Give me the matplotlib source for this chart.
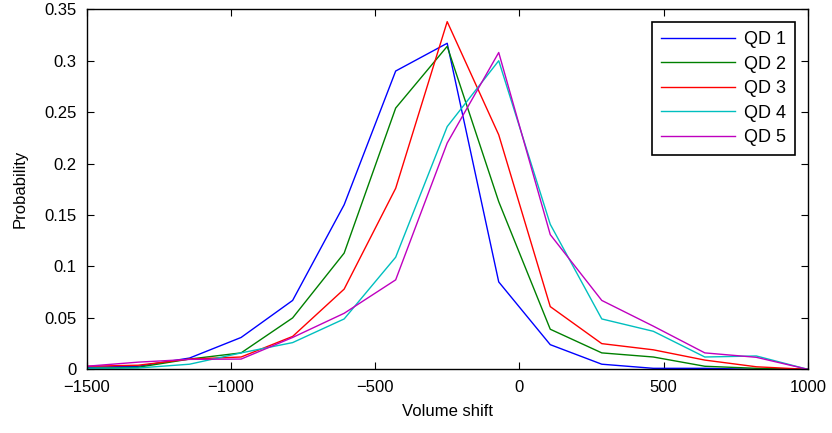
import numpy as np
import matplotlib.pyplot as plt
from matplotlib.ticker import FuncFormatter

plt.rcParams['font.family'] = ['Liberation Sans', 'DejaVu Sans']

# data
shift = np.linspace(-1500, 1000, 15)
qd1 = [0.002, 0.003, 0.011, 0.031, 0.067, 0.160, 0.290, 0.317, 0.085, 0.024, 0.005, 0.001, 0.001, 0.0, 0.0]
qd2 = [0.001, 0.002, 0.010, 0.016, 0.050, 0.113, 0.254, 0.314, 0.163, 0.039, 0.016, 0.012, 0.003, 0.001, 0.0]
qd3 = [0.003, 0.004, 0.010, 0.012, 0.032, 0.078, 0.176, 0.338, 0.228, 0.061, 0.025, 0.019, 0.009, 0.0025, 0.0]
qd4 = [0.001, 0.0013, 0.005, 0.016, 0.026, 0.049, 0.109, 0.236, 0.300, 0.141, 0.049, 0.037, 0.012, 0.013, 0.0]
qd5 = [0.003, 0.007, 0.0097, 0.010, 0.031, 0.0545, 0.087, 0.220, 0.308, 0.131, 0.067, 0.042, 0.016, 0.0117, 0.0]
labels = ['QD 1', 'QD 2', 'QD 3', 'QD 4', 'QD 5']
colors = ['#0000ff', '#008000', '#ff0000', '#00bfbf', '#bf00bf']

fig = plt.figure(figsize=(8.32, 4.33), dpi=100)
ax = fig.add_axes([0.104, 0.147, 0.867, 0.8315])
for ys, lab, c in zip([qd1, qd2, qd3, qd4, qd5], labels, colors):
    ax.plot(shift, ys, color=c, lw=1.0, label=lab)

ax.set_xlim(-1500, 1000)
ax.set_ylim(0, 0.35)
ax.set_xticks(np.arange(-1500, 1001, 500))
ax.set_yticks(np.arange(0, 0.351, 0.05))
ax.yaxis.set_major_formatter(FuncFormatter(lambda v, p: '%g' % round(v, 2)))
ax.tick_params(direction='in', top=True, right=True, labelsize=12, length=5, width=0.8)
ax.tick_params(axis='x', pad=8)
ax.tick_params(axis='y', pad=7)
for s in ax.spines.values():
    s.set_linewidth(1.0)
ax.set_xlabel('Volume shift', fontsize=12, labelpad=6)
ax.set_ylabel('Probability', fontsize=12, labelpad=12)

leg = ax.legend(loc='upper right', prop={'size': 13}, fancybox=False, edgecolor='black',
                framealpha=1, handlelength=4.1, handletextpad=0.5, borderaxespad=0.7,
                labelspacing=0.42, borderpad=0.5)
leg.get_frame().set_linewidth(1.2)

plt.savefig('out.png', dpi=100)
